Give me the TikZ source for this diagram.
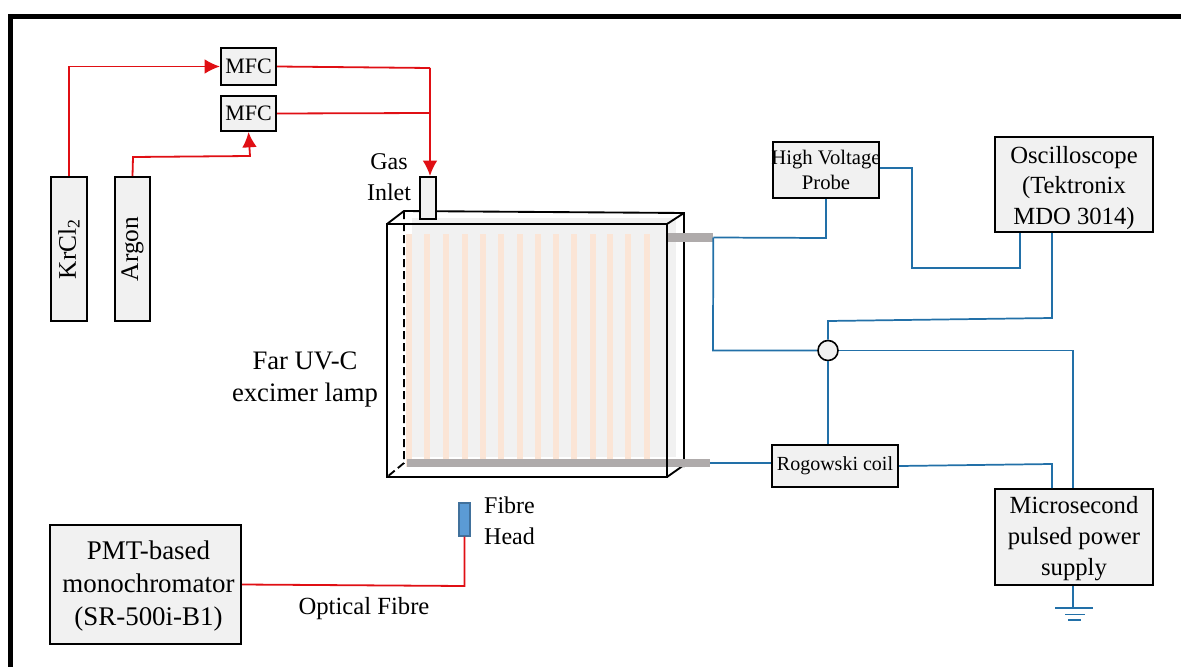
\documentclass[tikz,border=0pt]{standalone}
\usepackage{fontspec}
\setmainfont{Liberation Serif}
\usetikzlibrary{arrows.meta}
\definecolor{boxgray}{HTML}{F1F1F1}
\definecolor{stripe}{HTML}{FBE5D6}
\definecolor{bargray}{HTML}{AFABAB}
\definecolor{wireblue}{HTML}{2270A8}
\definecolor{wirered}{HTML}{E00F14}
\definecolor{headblue}{HTML}{5B9BD5}
\definecolor{headedge}{HTML}{41719C}
\tikzset{
    size/.style 2 args={minimum width=#1*0.75pt, minimum height=#2*0.75pt},
    box/.style={draw=black, line width=1.5pt, fill=boxgray, inner sep=0pt, align=center,
        font=\fontsize{18.5}{23}\selectfont},
    smallbox/.style={box, font=\fontsize{15}{18}\selectfont},
    label/.style={inner sep=0pt, align=center, font=\fontsize{18}{23}\selectfont},
    bar/.style={fill=bargray, inner sep=0pt},
    redwire/.style={wirered, line width=1.35pt},
    bluewire/.style={wireblue, line width=1.3pt},
    redarrow/.style={redwire, -{Latex[length=11.5pt,width=11pt]}},
    edge/.style={black, line width=1.4pt}
}
\begin{document}
\begin{tikzpicture}[x=0.75pt, y=-0.75pt]
    \useasboundingbox (0,0) rectangle (1181,667);
    % Draw frame
    \draw [black, line width=3.75pt] (10.5,667) -- (10.5,16.5) -- (1181,16.5);

    % Draw lamp body
    \fill [boxgray] (412,218) rectangle (676,457);
    \foreach \x in {409,427,446,465,483,501,520,538,556,574,593,610,628,647}
        \fill [stripe] (\x-3,234) rectangle (\x+3,467);
    \draw [edge] (387,224) -- (404,211) -- (684,213) -- (684,467);
    \draw [edge] (667,224) -- (684,213);
    \draw [edge] (667,477) -- (684,465);
    \draw [edge, dash pattern=on 6pt off 3pt] (404,211) -- (404,463) -- (387,477);
    \node [bar, size={46}{8.5}] (barA) at (690,237.5) {};
    \node [bar, size={303}{8.5}] (barB) at (558.5,463) {};
    \node [draw=black, line width=1.5pt, inner sep=0pt, size={280}{253}] (lamp) at (527,350.5) {};
    \node [box, size={16}{42}] (inlet) at (428,198) {};

    % Draw gas side
    \node [box, size={36}{144}, font=\fontsize{19}{23}\selectfont] (krcl) at (69,249) {\rotatebox{90}{KrCl\textsubscript{2}}};
    \node [box, size={35}{144}, font=\fontsize{19}{23}\selectfont] (argon) at (132.5,249) {\rotatebox{90}{Argon}};
    \node [box, size={55}{37}, font=\fontsize{16.5}{20}\selectfont] (mfcA) at (248.5,66.5) {MFC};
    \node [box, size={55}{35}, font=\fontsize{16.5}{20}\selectfont] (mfcB) at (248.5,113.5) {MFC};
    \coordinate (argonbend) at (133,157);
    \coordinate (argonturn) at (250,156);
    \coordinate (inletturn) at (430,68);
    \coordinate (inletjoin) at (430,113);
    \draw [redarrow] (krcl.north -| 69,0) |- (mfcA.west);
    \draw [redarrow] (argon.north) -- (argonbend) -- (argonturn) -- (mfcB.south);
    \draw [redwire] (mfcA.east) -- (inletturn);
    \draw [redwire] (mfcB.east) -- (inletjoin);
    \draw [redarrow] (inletturn) -- (inletturn |- inlet.north);

    % Draw electrical side
    \node [box, size={106}{56}, font=\fontsize{15.5}{19}\selectfont] (probe) at (826,170) {\makebox[0pt]{High Voltage}\\Probe};
    \node [box, size={158}{95}] (scope) at (1074,184.5) {\rule{0pt}{18pt}Oscilloscope\\(Tektronix\\MDO 3014)};
    \node [draw=black, line width=1.2pt, fill=boxgray, circle, inner sep=0pt, minimum size=15pt] (joint) at (828,350.5) {};
    \node [smallbox, size={126}{42}] (coil) at (835,466) {Rogowski coil};
    \node [box, size={158}{96}] (supply) at (1074,537) {\rule{0pt}{15pt}Microsecond\\pulsed power\\supply};
    \coordinate (probefoot) at (826,238);
    \coordinate (barturn) at (713,350.5);
    \coordinate (probeA) at (912,168);
    \coordinate (probeB) at (912,268);
    \coordinate (probeC) at (1020,268);
    \coordinate (jointtop) at (828,321);
    \coordinate (scopefoot) at (1052,318);
    \coordinate (coilA) at (1052,464);
    \coordinate (gnd) at (1073,608);
    \draw [bluewire] (barA.east) -- (probefoot) -- (probe.south);
    \draw [bluewire] (barA.east) -- (barturn) -- (joint.west);
    \draw [bluewire] (probe.east |- probeA) -- (probeA) -- (probeB) -- (probeC) -- (probeC |- scope.south);
    \draw [bluewire] (joint.north) -- (jointtop) -- (scopefoot) -- (scopefoot |- scope.south);
    \draw [bluewire] (joint.east) -| (gnd |- supply.north);
    \draw [bluewire] (joint.south) -- (joint |- coil.north);
    \draw [bluewire] (barB.east) -- (coil.west |- barB.east);
    \draw [bluewire] (coil.east) -- (coilA) -- (coilA |- supply.north);
    \draw [bluewire] (gnd |- supply.south) -- (gnd);
    \draw [bluewire] (1055,608) -- (1093,608);
    \draw [bluewire] (1065,614.5) -- (1085,614.5);
    \draw [bluewire] (1068,620) -- (1081,620);

    % Draw optical side
    \node [box, size={191}{119}] (pmt) at (145.5,584.5) {};
    \node [label, font=\fontsize{20.2}{25}\selectfont] (pmtlabel) at (148.5,586) {PMT-based\\monochromator\\(SR-500i-B1)};
    \node [draw=headedge, line width=0.9pt, fill=headblue, inner sep=0pt, size={11}{33}] (head) at (464.5,519.5) {};
    \coordinate (fibreturn) at (464,586);
    \draw [redwire] (pmt.east) -- (fibreturn) -- (fibreturn -| head.south) -- (head.south);

    % Labels
    \node [label] (gaslabel) at (389,177) {Gas\\Inlet};
    \node [label, font=\fontsize{20}{24}\selectfont] (lamplabel) at (305,380) {Far UV-C\\excimer lamp};
    \node [label, align=left] (headlabel) at (509.5,521) {Fibre\\Head};
    \node [label, font=\fontsize{18.5}{22}\selectfont] (fibrelabel) at (364,609) {Optical Fibre};
\end{tikzpicture}
\end{document}
